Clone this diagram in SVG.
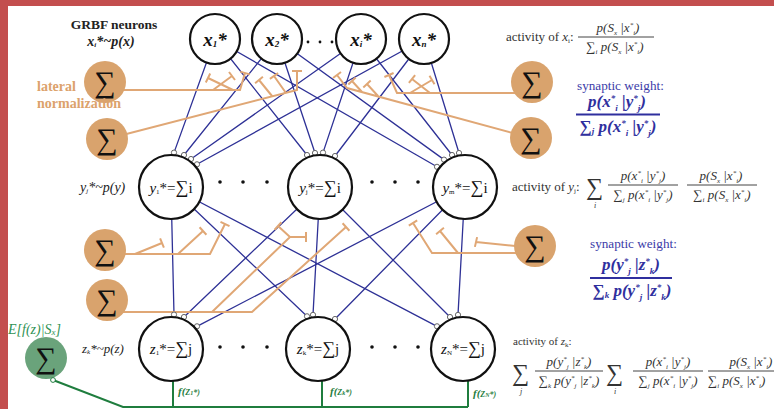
<svg xmlns="http://www.w3.org/2000/svg" width="774" height="409" viewBox="0 0 774 409">
<style>
.f{font-family:"Liberation Serif","DejaVu Serif",serif}
.it{font-style:italic}
.act{font-size:13px;fill:#333}
.s{font-size:7px}
.s2{font-size:9px}
.sw{font-size:13.2px;fill:#3b3ba8}
.bw{font-size:17px;font-weight:bold;font-style:italic;fill:#2f2f9e}
.node{fill:#fff;stroke:#111;stroke-width:2.2}
.blue{stroke:#2e3196;stroke-width:1.3;fill:none}
.or{stroke:#e0a775;stroke-width:2;fill:none;stroke-linecap:butt}
.orc{fill:#d9a36d}
.syn{fill:#fff;stroke:#666;stroke-width:1}
.grn{stroke:#1f7d3e;stroke-width:2;fill:none}
.sig{font-family:"Liberation Serif","DejaVu Serif",serif;font-size:30px;fill:#111;text-anchor:middle}
.dot{fill:#111}
.xl{font-size:19px;font-weight:bold;font-style:italic;fill:#111}
.yl{font-size:15px;fill:#111}
.gl{font-size:11px;font-weight:bold;font-style:italic;fill:#1f7d3e}
</style>
<rect x="0" y="0" width="774" height="409" fill="#fff"/>
<rect x="0" y="0" width="774" height="6" fill="#c34e4e"/>
<rect x="0" y="0" width="8" height="409" fill="#c34e4e"/>

<g id="connectors">
 <g class="blue">
  <path d="M215,39L174,152.6M277,39L184,155M361,39L191,159M424,39L197,164.3"/>
  <path d="M215,39L307,155M277,39L315,153M361,39L323,152.6M424,39L335,156"/>
  <path d="M215,39L437,166.8M277,39L444,159.6M361,39L452,155M424,39L459,153"/>
  <path d="M171,187L174,314.6M320,187L184,317M465,187L197,326.3"/>
  <path d="M171,187L307,316.3M320,187L313,314.9M465,187L335,319"/>
  <path d="M171,187L437,326.3M320,187L450,317M465,187L458,314.9"/>
 </g>
 <g class="or">
  <path d="M105,90H240L245,73M240.2,71.6L249.8,74.4M233,90L208,78M210.2,73.5L205.8,82.5M213,90L232,76M235,80L229,72"/>
  <path d="M107,139L297,90L297,71M292,71H302M272,96L259,80M262.9,76.8L255.1,83.2M286,93L274,76M278.1,73.1L269.9,78.9"/>
  <path d="M532,93H397L389,75M393.6,73L384.4,77M410,93L432,80M434.5,84.3L429.5,75.7M430,93L412,79M415.1,75.1L408.9,82.9"/>
  <path d="M531,138L347,88L337,75M341,72L333,78M362,92L352,81M355.7,77.6L348.3,84.4M378,96L367,84M370.7,80.6L363.3,87.4"/>
  <path d="M105,254H210L225,224M229.5,226.2L220.5,221.8M135,254L162,243M163.9,247.6L160.1,238.4M178,254L203,231M206.4,234.7L199.6,227.3"/>
  <path d="M107,312H252L346,227M349.4,230.7L342.6,223.3M212,312L290,237L278,226M281.4,222.3L274.6,229.7M290,237H306M306,232V242"/>
  <path d="M535,253H432L413,223M417.2,220.3L408.8,225.7M458,253L440,231M443.9,227.8L436.1,234.2M535,248L476,242M477.1,237.1L474.9,246.9"/>
 </g>
 <g class="grn">
  <path d="M53,380L123,407H468M173,381V407M322,381V407M468,381V407"/>
 </g>
 <g class="syn">
  <circle cx="174" cy="152.6" r="2.6"/><circle cx="184" cy="155" r="2.6"/><circle cx="191" cy="159" r="2.6"/><circle cx="197" cy="164.3" r="2.6"/>
  <circle cx="307" cy="155" r="2.6"/><circle cx="315" cy="153" r="2.6"/><circle cx="323" cy="152.6" r="2.6"/><circle cx="335" cy="156" r="2.6"/>
  <circle cx="437" cy="166.8" r="2.6"/><circle cx="444" cy="159.6" r="2.6"/><circle cx="452" cy="155" r="2.6"/><circle cx="459" cy="153" r="2.6"/>
  <circle cx="174" cy="314.6" r="2.6"/><circle cx="184" cy="317" r="2.6"/><circle cx="197" cy="326.3" r="2.6"/>
  <circle cx="307" cy="316.3" r="2.6"/><circle cx="313" cy="314.9" r="2.6"/><circle cx="335" cy="319" r="2.6"/>
  <circle cx="437" cy="326.3" r="2.6"/><circle cx="450" cy="317" r="2.6"/><circle cx="458" cy="314.9" r="2.6"/>
 </g>
</g>

<g id="x1"><circle class="node" cx="215" cy="39" r="25"/><text class="f xl" x="215" y="46" text-anchor="middle">x<tspan class="s2" dy="1">1</tspan><tspan dy="-1">*</tspan></text></g>
<g id="x2"><circle class="node" cx="277" cy="39" r="25"/><text class="f xl" x="277" y="46" text-anchor="middle">x<tspan class="s2" dy="1">2</tspan><tspan dy="-1">*</tspan></text></g>
<g id="xi"><circle class="node" cx="361" cy="39" r="25"/><text class="f xl" x="361" y="46" text-anchor="middle">x<tspan class="s2" dy="1">i</tspan><tspan dy="-1">*</tspan></text></g>
<g id="xn"><circle class="node" cx="424" cy="39" r="25"/><text class="f xl" x="424" y="46" text-anchor="middle">x<tspan class="s2" dy="1">n</tspan><tspan dy="-1">*</tspan></text></g>
<g id="xdots"><circle class="dot" cx="308" cy="42" r="1.4"/><circle class="dot" cx="320" cy="42" r="1.4"/><circle class="dot" cx="332" cy="42" r="1.4"/></g>

<g id="y1"><circle class="node" cx="171" cy="187" r="32"/><text class="f yl" x="171" y="193" text-anchor="middle"><tspan class="it">y</tspan><tspan class="s" dy="1">1</tspan><tspan dy="-1">*=</tspan><tspan font-size="18">∑</tspan>i</text></g>
<g id="yj"><circle class="node" cx="320" cy="187" r="32"/><text class="f yl" x="320" y="193" text-anchor="middle"><tspan class="it">y</tspan><tspan class="s" dy="1">j</tspan><tspan dy="-1">*=</tspan><tspan font-size="18">∑</tspan>i</text></g>
<g id="ym"><circle class="node" cx="465" cy="187" r="32"/><text class="f yl" x="465" y="193" text-anchor="middle"><tspan class="it">y</tspan><tspan class="s" dy="1">m</tspan><tspan dy="-1">*=</tspan><tspan font-size="18">∑</tspan>i</text></g>
<g id="ydots"><circle class="dot" cx="220" cy="182" r="1.8"/><circle class="dot" cx="243" cy="182" r="1.8"/><circle class="dot" cx="267" cy="182" r="1.8"/><circle class="dot" cx="372" cy="182" r="1.8"/><circle class="dot" cx="395" cy="182" r="1.8"/><circle class="dot" cx="418" cy="182" r="1.8"/></g>

<g id="z1"><circle class="node" cx="171" cy="349" r="32"/><text class="f yl" x="171" y="354" text-anchor="middle"><tspan class="it">z</tspan><tspan class="s" dy="1">1</tspan><tspan dy="-1">*=</tspan><tspan font-size="18">∑</tspan>j</text></g>
<g id="zk"><circle class="node" cx="318" cy="349" r="32"/><text class="f yl" x="318" y="354" text-anchor="middle"><tspan class="it">z</tspan><tspan class="s" dy="1">k</tspan><tspan dy="-1">*=</tspan><tspan font-size="18">∑</tspan>j</text></g>
<g id="zN"><circle class="node" cx="463" cy="349" r="32"/><text class="f yl" x="463" y="354" text-anchor="middle"><tspan class="it">z</tspan><tspan class="s" dy="1">N</tspan><tspan dy="-1">*=</tspan><tspan font-size="18">∑</tspan>j</text></g>
<g id="zdots"><circle class="dot" cx="220" cy="347" r="1.8"/><circle class="dot" cx="243" cy="347" r="1.8"/><circle class="dot" cx="267" cy="347" r="1.8"/><circle class="dot" cx="372" cy="347" r="1.8"/><circle class="dot" cx="395" cy="347" r="1.8"/><circle class="dot" cx="418" cy="347" r="1.8"/></g>

<g id="sumA"><circle class="orc" cx="105" cy="82" r="21"/><text class="sig" x="105" y="92">∑</text></g>
<g id="sumB"><circle class="orc" cx="107" cy="139" r="21"/><text class="sig" x="107" y="149">∑</text></g>
<g id="sumC"><circle class="orc" cx="532" cy="82" r="21"/><text class="sig" x="532" y="92">∑</text></g>
<g id="sumD"><circle class="orc" cx="531" cy="138" r="21"/><text class="sig" x="531" y="148">∑</text></g>
<g id="sumE"><circle class="orc" cx="105" cy="250" r="21"/><text class="sig" x="105" y="260">∑</text></g>
<g id="sumF"><circle class="orc" cx="107" cy="300" r="21"/><text class="sig" x="107" y="310">∑</text></g>
<g id="sumG"><circle class="orc" cx="535" cy="246" r="21"/><text class="sig" x="535" y="256">∑</text></g>
<g id="sumGreen"><circle cx="46" cy="358" r="21" fill="#6aa37b"/><text class="sig" x="46" y="368">∑</text><circle cx="53" cy="380" r="2.4" fill="#fff" stroke="#1f7d3e" stroke-width="1"/></g>

<g id="labels">
 <text class="f" x="114" y="29" text-anchor="middle" font-size="13.5" font-weight="bold" fill="#222">GRBF neurons</text>
 <text class="f" x="111" y="46" text-anchor="middle" font-size="14" font-weight="bold" font-style="italic" fill="#222">x<tspan class="s" dy="1">i</tspan><tspan dy="-1">*~p(x)</tspan></text>
 <text class="f" x="37" y="91" font-size="14" font-weight="bold" fill="#dca26c">lateral</text>
 <text class="f" x="37" y="108" font-size="14" font-weight="bold" fill="#dca26c">normalization</text>
 <text class="f it" x="80" y="192" font-size="14" fill="#222">y<tspan class="s" dy="1">j</tspan><tspan dy="-1">*~p(y)</tspan></text>
 <text class="f it" x="82" y="353" font-size="13" fill="#222">z<tspan class="s" dy="1">k</tspan><tspan dy="-1">*~p(z)</tspan></text>
 <text class="f it" x="8" y="334" font-size="14" fill="#2f9254">E[f(z)|S<tspan class="s2" dy="1">x</tspan><tspan dy="-1">]</tspan></text>
 <text class="f gl" x="178" y="395">f(<tspan font-size="8">Z<tspan font-size="6">1</tspan>*)</tspan></text>
 <text class="f gl" x="330" y="395">f(<tspan font-size="8">Z<tspan font-size="6">k</tspan>*)</tspan></text>
 <text class="f gl" x="473" y="397">f(<tspan font-size="8">Z<tspan font-size="6">N</tspan>*)</tspan></text>
</g>

<g id="formulas">
 <text class="f act" x="506" y="41">activity of <tspan class="it">x</tspan><tspan class="s" dy="2">i</tspan><tspan dy="-2">:</tspan></text>
 <text class="f act it" x="618" y="32" text-anchor="middle">p(S<tspan class="s" dy="2.5">x</tspan><tspan dy="-2.5"> |x</tspan><tspan class="s" dy="-5">*</tspan><tspan class="s" dy="8">i</tspan><tspan dy="-3">)</tspan></text>
 <line x1="578" y1="37" x2="654" y2="37" stroke="#444" stroke-width="1"/>
 <text class="f act it" x="615" y="51" text-anchor="middle"><tspan font-style="normal">∑</tspan><tspan class="s" dy="2.5">i</tspan><tspan dy="-2.5"> p(S</tspan><tspan class="s" dy="2.5">x</tspan><tspan dy="-2.5"> |x</tspan><tspan class="s" dy="-5">*</tspan><tspan class="s" dy="8">i</tspan><tspan dy="-3">)</tspan></text>

 <text class="f sw" x="577" y="90">synaptic weight:</text>
 <text class="f bw" x="617" y="107" text-anchor="middle">p(x<tspan class="s2" dy="-6">*</tspan><tspan class="s2" dy="10">i</tspan><tspan dy="-4"> |y</tspan><tspan class="s2" dy="-6">*</tspan><tspan class="s2" dy="10">j</tspan><tspan dy="-4">)</tspan></text>
 <line x1="576" y1="114.5" x2="660" y2="114.5" stroke="#2f2f9e" stroke-width="2"/>
 <text class="f bw" x="618" y="132" text-anchor="middle"><tspan font-style="normal">∑</tspan><tspan class="s2" dy="2">j</tspan><tspan dy="-2"> p(x</tspan><tspan class="s2" dy="-6">*</tspan><tspan class="s2" dy="10">i</tspan><tspan dy="-4"> |y</tspan><tspan class="s2" dy="-6">*</tspan><tspan class="s2" dy="10">j</tspan><tspan dy="-4">)</tspan></text>

 <text class="f act" x="512" y="191">activity of <tspan class="it">y</tspan><tspan class="s" dy="2">j</tspan><tspan dy="-2">:</tspan></text>
 <text class="f" x="586" y="195" font-size="24" fill="#333">∑</text>
 <text class="f it" x="594" y="208" font-size="8" fill="#333">i</text>
 <text class="f act it" x="643" y="180" text-anchor="middle">p(x<tspan class="s" dy="-5">*</tspan><tspan class="s" dy="8">i</tspan><tspan dy="-3"> |y</tspan><tspan class="s" dy="-5">*</tspan><tspan class="s" dy="8">j</tspan><tspan dy="-3">)</tspan></text>
 <line x1="608" y1="185" x2="678" y2="185" stroke="#444" stroke-width="1"/>
 <text class="f act it" x="643" y="199" text-anchor="middle"><tspan font-style="normal">∑</tspan><tspan class="s" dy="2.5">j</tspan><tspan dy="-2.5"> p(x</tspan><tspan class="s" dy="-5">*</tspan><tspan class="s" dy="8">i</tspan><tspan dy="-3"> |y</tspan><tspan class="s" dy="-5">*</tspan><tspan class="s" dy="8">j</tspan><tspan dy="-3">)</tspan></text>
 <text class="f act it" x="721" y="180" text-anchor="middle">p(S<tspan class="s" dy="2.5">x</tspan><tspan dy="-2.5"> |x</tspan><tspan class="s" dy="-5">*</tspan><tspan class="s" dy="8">i</tspan><tspan dy="-3">)</tspan></text>
 <line x1="687" y1="185" x2="757" y2="185" stroke="#444" stroke-width="1"/>
 <text class="f act it" x="722" y="199" text-anchor="middle"><tspan font-style="normal">∑</tspan><tspan class="s" dy="2.5">i</tspan><tspan dy="-2.5"> p(S</tspan><tspan class="s" dy="2.5">x</tspan><tspan dy="-2.5"> |x</tspan><tspan class="s" dy="-5">*</tspan><tspan class="s" dy="8">i</tspan><tspan dy="-3">)</tspan></text>

 <text class="f sw" x="590" y="248">synaptic weight:</text>
 <text class="f bw" x="631" y="270" text-anchor="middle">p(y<tspan class="s2" dy="-6">*</tspan><tspan class="s2" dy="10">j</tspan><tspan dy="-4"> |z</tspan><tspan class="s2" dy="-6">*</tspan><tspan class="s2" dy="10">k</tspan><tspan dy="-4">)</tspan></text>
 <line x1="590" y1="278" x2="672" y2="278" stroke="#2f2f9e" stroke-width="2"/>
 <text class="f bw" x="632" y="296" text-anchor="middle"><tspan font-style="normal">∑</tspan><tspan class="s2" dy="2">k</tspan><tspan dy="-2"> p(y</tspan><tspan class="s2" dy="-6">*</tspan><tspan class="s2" dy="10">j</tspan><tspan dy="-4"> |z</tspan><tspan class="s2" dy="-6">*</tspan><tspan class="s2" dy="10">k</tspan><tspan dy="-4">)</tspan></text>

 <text class="f" x="513" y="345" font-size="11" fill="#333">activity of <tspan class="it">z</tspan><tspan font-size="7" dy="2">k</tspan><tspan dy="-2">:</tspan></text>
 <text class="f" x="512" y="381" font-size="24" fill="#333">∑</text>
 <text class="f it" x="520" y="394" font-size="8" fill="#333">j</text>
 <text class="f act it" x="569" y="366" text-anchor="middle">p(y<tspan class="s" dy="-5">*</tspan><tspan class="s" dy="8">j</tspan><tspan dy="-3"> |z</tspan><tspan class="s" dy="-5">*</tspan><tspan class="s" dy="8">k</tspan><tspan dy="-3">)</tspan></text>
 <line x1="535" y1="371" x2="603" y2="371" stroke="#444" stroke-width="1"/>
 <text class="f act it" x="569" y="385" text-anchor="middle"><tspan font-style="normal">∑</tspan><tspan class="s" dy="2.5">k</tspan><tspan dy="-2.5"> p(y</tspan><tspan class="s" dy="-5">*</tspan><tspan class="s" dy="8">j</tspan><tspan dy="-3"> |z</tspan><tspan class="s" dy="-5">*</tspan><tspan class="s" dy="8">k</tspan><tspan dy="-3">)</tspan></text>
 <text class="f" x="606" y="381" font-size="24" fill="#333">∑</text>
 <text class="f it" x="614" y="394" font-size="8" fill="#333">i</text>
 <text class="f act it" x="668" y="366" text-anchor="middle">p(x<tspan class="s" dy="-5">*</tspan><tspan class="s" dy="8">i</tspan><tspan dy="-3"> |y</tspan><tspan class="s" dy="-5">*</tspan><tspan class="s" dy="8">j</tspan><tspan dy="-3">)</tspan></text>
 <line x1="633" y1="371" x2="703" y2="371" stroke="#444" stroke-width="1"/>
 <text class="f act it" x="668" y="385" text-anchor="middle"><tspan font-style="normal">∑</tspan><tspan class="s" dy="2.5">j</tspan><tspan dy="-2.5"> p(x</tspan><tspan class="s" dy="-5">*</tspan><tspan class="s" dy="8">i</tspan><tspan dy="-3"> |y</tspan><tspan class="s" dy="-5">*</tspan><tspan class="s" dy="8">j</tspan><tspan dy="-3">)</tspan></text>
 <text class="f act it" x="751" y="366" text-anchor="middle">p(S<tspan class="s" dy="2.5">x</tspan><tspan dy="-2.5"> |x</tspan><tspan class="s" dy="-5">*</tspan><tspan class="s" dy="8">i</tspan><tspan dy="-3">)</tspan></text>
 <line x1="708" y1="371" x2="774" y2="371" stroke="#444" stroke-width="1"/>
 <text class="f act it" x="708" y="385"><tspan font-style="normal">∑</tspan><tspan class="s" dy="2.5">i</tspan><tspan dy="-2.5"> p(S</tspan><tspan class="s" dy="2.5">x</tspan><tspan dy="-2.5"> |x</tspan><tspan class="s" dy="-5">*</tspan><tspan class="s" dy="8">i</tspan><tspan dy="-3">)</tspan></text>
</g>
</svg>
